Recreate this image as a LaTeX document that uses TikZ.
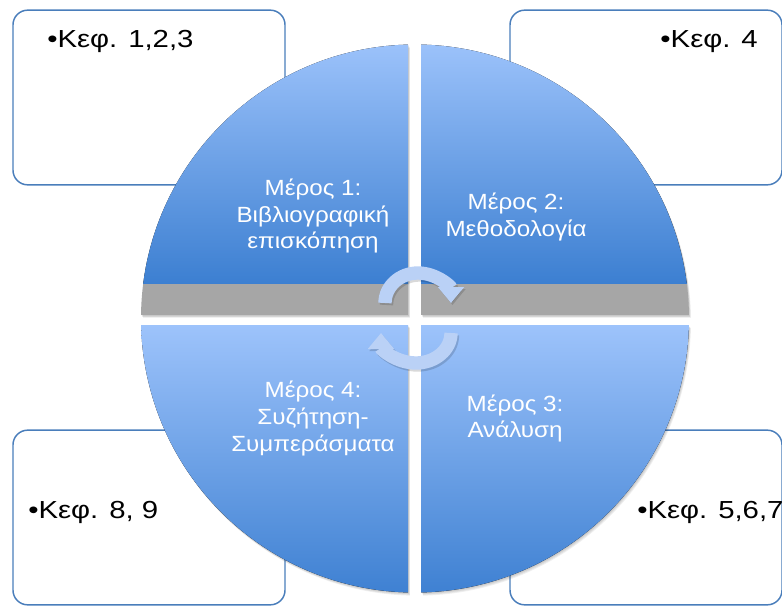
\documentclass[tikz,border=0pt]{standalone}
\usepackage{fontspec}
\setmainfont{Liberation Sans}
\newfontfamily\chapfont[FakeStretch=1.19]{Liberation Sans}
\newfontfamily\partfont[FakeStretch=1.1]{Liberation Sans}
\usetikzlibrary{arrows.meta,calc}

\definecolor{edgeblue}{RGB}{74,126,187}
\definecolor{paleblue}{RGB}{157,195,251}
\definecolor{midblue}{RGB}{128,177,243}
\definecolor{lowmid}{RGB}{141,185,246}
\definecolor{deepblue}{RGB}{60,127,209}
\definecolor{bandgray}{RGB}{166,166,166}
\definecolor{arrowblue}{RGB}{186,209,246}

\begin{document}
\begin{tikzpicture}
[x=0.75pt, y=-0.75pt,
chapter/.style={draw=edgeblue, line width=1.1pt, rounded corners=11pt,
fill=white, minimum width=204pt, minimum height=131pt, inner sep=0pt},
chaptext/.style={font=\chapfont\fontsize{18.5}{22}\selectfont, inner sep=0pt},
parttext/.style={text=white, align=center, inner sep=0pt,
font=\partfont\fontsize{16.5}{20}\selectfont},
upperpart/.style={top color=paleblue, middle color=midblue, bottom color=deepblue},
lowerpart/.style={top color=paleblue, middle color=lowmid, bottom color=deepblue},
cycle/.style={draw=arrowblue, line width=10pt, -{Triangle[length=12pt,width=19pt]}},
cycleshadow/.style={draw=black, opacity=0.15, line width=10pt,
-{Triangle[length=12pt,width=19pt]}}]
\useasboundingbox (0,0) rectangle (782,606);

% chapter boxes in the corners
\node [chapter] (boxA) at (149,97.5)  {};
\node [chapter] (boxB) at (646,97.5)  {};
\node [chapter] (boxC) at (646,517.5) {};
\node [chapter] (boxD) at (149,517.5) {};

% soft shadows under the four parts
\foreach \xa/\ya/\xb/\yb in {120/40/408/315, 421/40/710/315,
                             120/325/408/600, 421/325/710/600}{
  \foreach \s in {1,...,4}{
    \begin{scope}[shift={(0.5*\s,0.8*\s)}]
      \clip (415,318.5) circle [radius=205.5pt];
      \fill [black, opacity=0.06] (\xa,\ya) rectangle (\xb,\yb);
    \end{scope}}}

% the four parts of the disc
\begin{scope}
  \clip (415,318.5) circle [radius=205.5pt];
  \fill [upperpart] (120,40) rectangle (408,284);
  \fill [upperpart] (421,40) rectangle (710,284);
  \fill [bandgray] (120,284) rectangle (408,315);
  \fill [bandgray] (421,284) rectangle (710,315);
  \fill [lowerpart] (120,325) rectangle (408,600);
  \fill [lowerpart] (421,325) rectangle (710,600);
\end{scope}

\node [parttext] (partA) at (313,216)   {Μέρος 1:\\Βιβλιογραφική\\επισκόπηση};
\node [parttext] (partB) at (516,217)   {Μέρος 2:\\Μεθοδολογία};
\node [parttext] (partC) at (515,418.5) {Μέρος 3:\\Ανάλυση};
\node [parttext] (partD) at (313,418.5) {Μέρος 4:\\Συζήτηση-\\Συμπεράσματα};

% chapter labels
\node [chaptext, anchor=base west] (chA) at (47,48)   {•Κεφ. 1,2,3};
\node [chaptext, anchor=base east] (chB) at (758,48)  {•Κεφ. 4};
\node [chaptext, anchor=base west] (chC) at (637,518) {•Κεφ. 5,6,7};
\node [chaptext, anchor=base west] (chD) at (28,518)  {•Κεφ. 8, 9};

% turning arrows in the middle
\coordinate (upL) at (385,303);
\coordinate (lowR) at (451,333);
\draw [cycleshadow] ($(upL)+(1.5,2)$) arc [start angle=180, end angle=360, x radius=33, y radius=30];
\draw [cycleshadow] ($(lowR)+(1.5,2)$) arc [start angle=0, end angle=180, x radius=35, y radius=30];
\draw [cycle] (upL) arc [start angle=180, end angle=360, x radius=33, y radius=30];
\draw [cycle] (lowR) arc [start angle=0, end angle=180, x radius=35, y radius=30];
\end{tikzpicture}
\end{document}
